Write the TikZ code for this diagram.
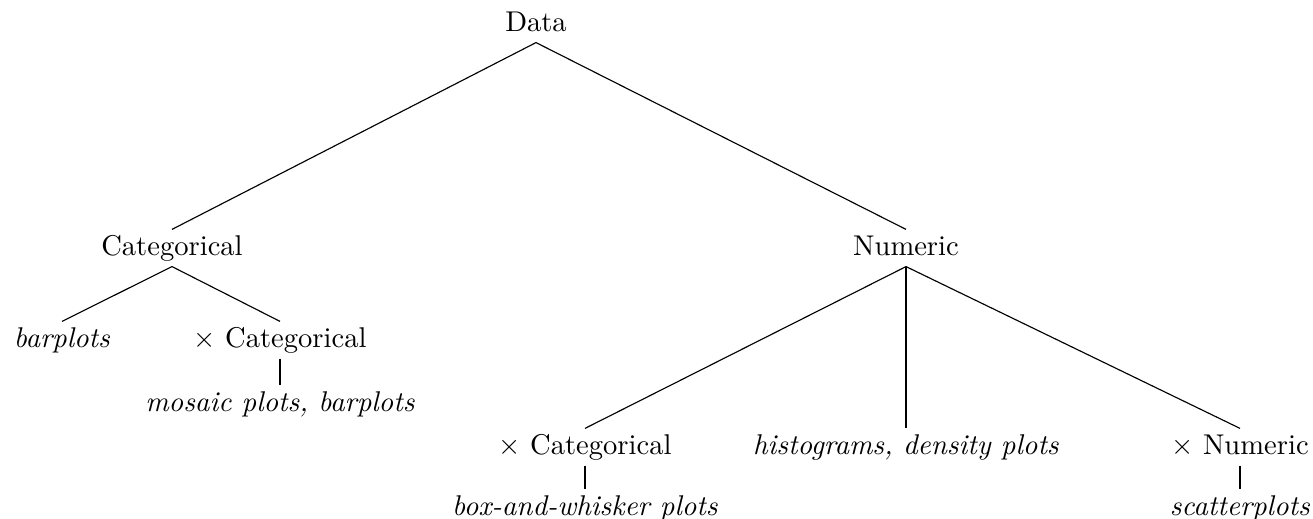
\documentclass[tikz,border=0pt]{standalone}
\usepackage{tikz}
\usetikzlibrary{positioning}
\begin{document}
\begin{tikzpicture}[x = .35pt, y = -.35pt, every node/.style = {inner sep = 2pt, text height = 1.6ex, text depth = .4ex}]
    \useasboundingbox (0,0) rectangle (1313,519);
    \node (data) at (536,24) {Data};
    \node (cat) at (172,248) {Categorical};
    \node (num) at (906,248) {Numeric};
    \node (bar) at (62,340) {\textit{barplots}};
    \node (catcat) at (280,340) {$\times$ Categorical};
    \node (mosaic) at (280,404) {\textit{mosaic plots, barplots}};
    \node (numcat) at (585,447) {$\times$ Categorical};
    \node (hist) at (906,447) {\textit{histograms, density plots}};
    \node (numnum) at (1240,447) {$\times$ Numeric};
    \node (box) at (585,508) {\textit{box-and-whisker plots}};
    \node (scatter) at (1240,508) {\textit{scatterplots}};
    \draw (data.south) -- (cat.north);
    \draw (data.south) -- (num.north);
    \draw (cat.south) -- (bar.north);
    \draw (cat.south) -- (catcat.north);
    \draw (catcat.south) -- (mosaic.north);
    \draw (num.south) -- (numcat.north);
    \draw (num.south) -- (hist.north);
    \draw (num.south) -- (numnum.north);
    \draw (numcat.south) -- (box.north);
    \draw (numnum.south) -- (scatter.north);
\end{tikzpicture}
\end{document}
